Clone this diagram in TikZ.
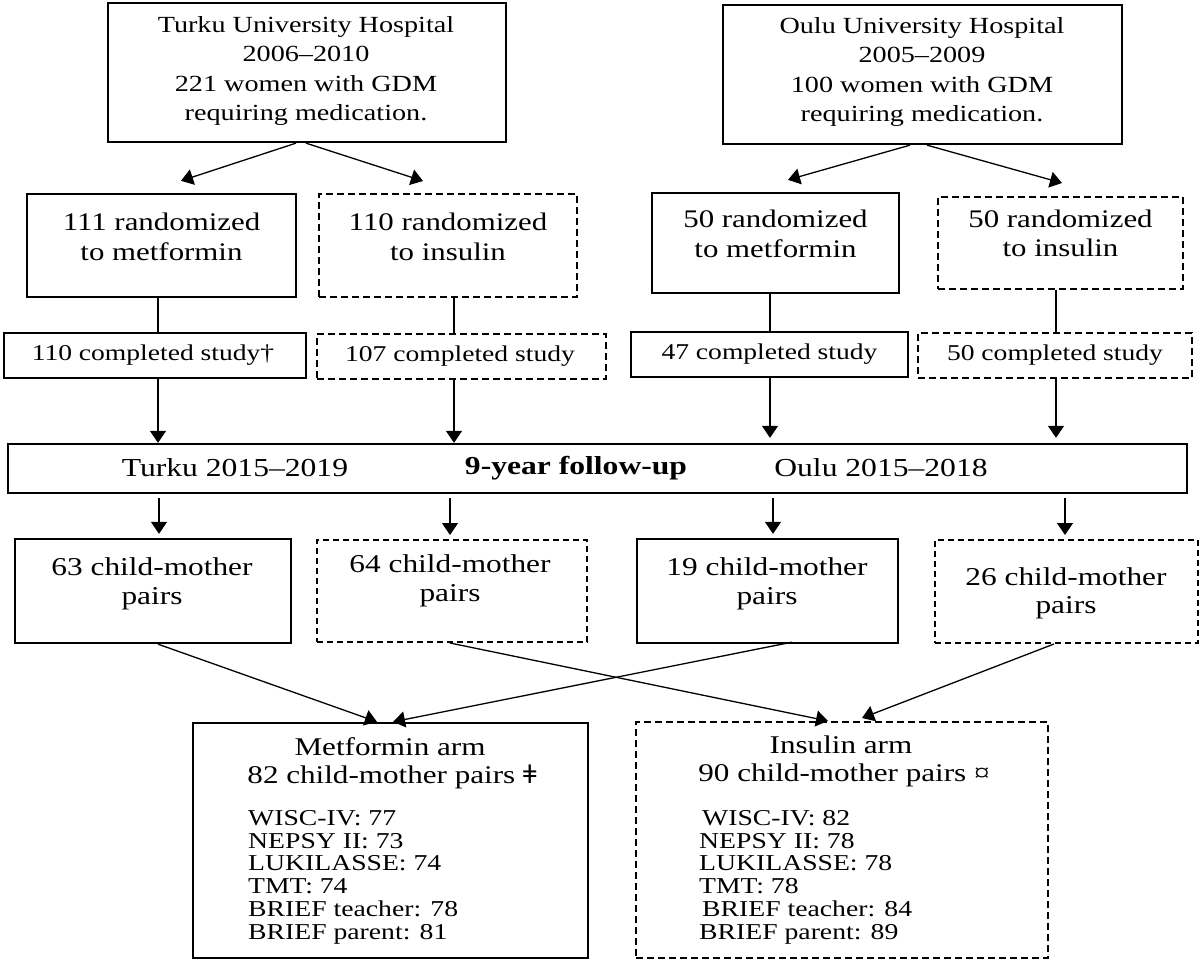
\documentclass[tikz,border=0pt]{standalone}
\usepackage{fontspec}
\setmainfont{Liberation Serif}[FakeStretch=1.22]
\newfontfamily\clickfont{DejaVu Serif}[FakeStretch=1.15]
\usetikzlibrary{arrows.meta,calc}
\newcommand\fontTop{\fontsize{23.1}{29.3}\selectfont}
\newcommand\fontRand{\fontsize{25.3}{29.5}\selectfont}
\newcommand\fontComp{\fontsize{22.6}{26}\selectfont}
\newcommand\fontFu{\fontsize{25.9}{28}\selectfont}
\newcommand\fontPair{\fontsize{25.7}{28.5}\selectfont}
\newcommand\fontArm{\fontsize{25.5}{30}\selectfont}
\newcommand\fontList{\fontsize{22.7}{22.8}\selectfont}
\tikzset{
  solidbox/.style={draw, line width=2.3pt, inner sep=0pt},
  dashbox/.style={draw, line width=2pt, dash pattern=on 7pt off 4pt, inner sep=0pt},
  conn/.style={line width=1.3pt},
  arr/.style={conn, -{Triangle[length=12pt,width=16pt]}},
  txt/.style={align=center, inner sep=0pt},
}
\begin{document}
\begin{tikzpicture}[x=1pt,y=-1pt]
\useasboundingbox[fill=white] (0,0) rectangle (1200,963);
% coordinates for vertical connectors
\coordinate (v1) at (158,0);
\coordinate (v2) at (454,0);
\coordinate (v3) at (770,0);
\coordinate (v4) at (1056,0);
\coordinate (w1) at (159,0);
\coordinate (w2) at (450,0);
\coordinate (w3) at (773,0);
\coordinate (w4) at (1065,0);

% top boxes
\node[solidbox, minimum width=398pt, minimum height=139pt] (tl) at (307,72.5) {};
\node[txt, font=\fontTop] (tlt) at (306,71) {Turku University Hospital\\2006–2010\\221 women with GDM\\requiring medication.};
\node[solidbox, minimum width=399pt, minimum height=139pt] (tr) at (922.5,74.5) {};
\node[txt, font=\fontTop] (trt) at (922,72) {Oulu University Hospital\\2005–2009\\100 women with GDM\\requiring medication.};

% randomized boxes
\node[solidbox, minimum width=269pt, minimum height=103pt] (m1) at (161.5,245.5) {};
\node[txt, font=\fontRand] (m1t) at (161.5,237) {111 randomized\\to metformin};
\node[dashbox, minimum width=258pt, minimum height=103pt] (i1) at (448,245.5) {};
\node[txt, font=\fontRand] (i1t) at (448,237) {110 randomized\\to insulin};
\node[solidbox, minimum width=247pt, minimum height=100pt] (m2) at (775.5,243) {};
\node[txt, font=\fontRand] (m2t) at (775.5,234) {50 randomized\\to metformin};
\node[dashbox, minimum width=245pt, minimum height=92pt] (i2) at (1060.5,243) {};
\node[txt, font=\fontRand] (i2t) at (1060.5,233.5) {50 randomized\\to insulin};

% completed boxes
\node[solidbox, minimum width=302pt, minimum height=45pt] (c1) at (155,355.5) {};
\node[txt, font=\fontComp] (c1t) at (153,355.5) {110 completed study†};
\node[dashbox, minimum width=289pt, minimum height=45pt] (c2) at (461.5,356.5) {};
\node[txt, font=\fontComp] (c2t) at (460,356.5) {107 completed study};
\node[solidbox, minimum width=277pt, minimum height=45pt] (c3) at (769.5,354.5) {};
\node[txt, font=\fontComp] (c3t) at (769.5,354) {47 completed study};
\node[dashbox, minimum width=274pt, minimum height=45pt] (c4) at (1055,355.5) {};
\node[txt, font=\fontComp] (c4t) at (1055,355.5) {50 completed study};

% follow-up bar
\node[solidbox, minimum width=1179pt, minimum height=49pt] (fu) at (597.5,468.5) {};
\node[txt, font=\fontFu] (fut1) at (235,468) {Turku 2015–2019};
\node[txt, font=\fontFu\bfseries] (fut2) at (576,468) {9-year follow-up};
\node[txt, font=\fontFu] (fut3) at (881,468) {Oulu 2015–2018};

% pair boxes
\node[solidbox, minimum width=276pt, minimum height=104pt] (p1) at (153,591) {};
\node[txt, font=\fontPair] (p1t) at (152,584) {63 child-mother\\pairs};
\node[dashbox, dash pattern=on 6pt off 4pt, minimum width=270pt, minimum height=102pt] (p2) at (452,591) {};
\node[txt, font=\fontPair] (p2t) at (450,581) {64 child-mother\\pairs};
\node[solidbox, minimum width=261pt, minimum height=104pt] (p3) at (767.5,591) {};
\node[txt, font=\fontPair] (p3t) at (767,584) {19 child-mother\\pairs};
\node[dashbox, dash pattern=on 6pt off 4pt, minimum width=263pt, minimum height=103pt] (p4) at (1066.5,591.5) {};
\node[txt, font=\fontPair] (p4t) at (1066,593.5) {26 child-mother\\pairs};

% arm boxes
\node[solidbox, minimum width=395pt, minimum height=235pt] (M) at (390.5,840.5) {};
\node[txt, font=\fontArm] (Mt1) at (390,747) {Metformin arm};
\node[txt, font=\fontArm] (Mt2) at (392,777) {82 child-mother pairs {\clickfont ǂ}};
\node[txt, font=\fontList, align=left, anchor=north west] (Ml) at (248,810) {WISC-IV: 77\\NEPSY II: 73\\LUKILASSE: 74\\TMT: 74\\BRIEF teacher: 78\\BRIEF parent: 81};
\node[dashbox, minimum width=412pt, minimum height=236pt] (I) at (842,840) {};
\node[txt, font=\fontArm] (It1) at (841,745) {Insulin arm};
\node[txt, font=\fontArm] (It2) at (844,775) {90 child-mother pairs ¤};
\node[txt, font=\fontList, align=left, anchor=north west] (Il) at (699,810) {\hspace*{3pt}WISC-IV: 82\\NEPSY II: 78\\LUKILASSE: 78\\TMT: 78\\\hspace*{3pt}BRIEF teacher: 84\\BRIEF parent: 89};

% connectors: top to randomized
\draw[arr] ($(tl.south)+(-11,0)$) -- ($(m1.north)+(19.5,-12)$);
\draw[arr] ($(tl.south)+(-1,0)$) -- ($(i1.north)+(-25,-12)$);
\draw[arr] ($(tr.south)+(-12.5,0)$) -- ($(m2.north)+(12.5,-12)$);
\draw[arr] ($(tr.south)+(4.5,0)$) -- ($(i2.north)+(1.5,-13)$);

% randomized to completed
\draw[conn] (m1.south -| v1) -- (c1.north -| v1);
\draw[conn] (i1.south -| v2) -- (c2.north -| v2);
\draw[conn] (m2.south -| v3) -- (c3.north -| v3);
\draw[conn] (i2.south -| v4) -- (c4.north -| v4);

% completed to follow-up
\draw[arr] (c1.south -| v1) -- (fu.north -| v1);
\draw[arr] (c2.south -| v2) -- (fu.north -| v2);
\draw[arr] (c3.south -| v3) -- ($(fu.north -| v3)+(0,-5)$);
\draw[arr] (c4.south -| v4) -- ($(fu.north -| v4)+(0,-5)$);

% follow-up to pairs
\draw[arr] ($(fu.south -| w1)+(0,4)$) -- ($(p1.north -| w1)+(0,-4)$);
\draw[arr] ($(fu.south -| w2)+(0,4)$) -- ($(p2.north -| w2)+(0,-4)$);
\draw[arr] ($(fu.south -| w3)+(0,4)$) -- ($(p3.north -| w3)+(0,-4)$);
\draw[arr] ($(fu.south -| w4)+(0,4)$) -- ($(p4.north -| w4)+(0,-4)$);

% pairs to arms
\draw[arr] ($(p1.south)+(5,0)$) -- ($(M.north)+(-13.5,0)$);
\draw[arr] ($(p3.south)+(24.5,-2)$) -- ($(M.north)+(2.5,0)$);
\draw[arr] ($(p2.south)+(-2,0)$) -- ($(I.north)+(-14,0)$);
\draw[arr] ($(p4.south)+(-12.5,0)$) -- ($(I.north)+(20,-3)$);
\end{tikzpicture}
\end{document}
